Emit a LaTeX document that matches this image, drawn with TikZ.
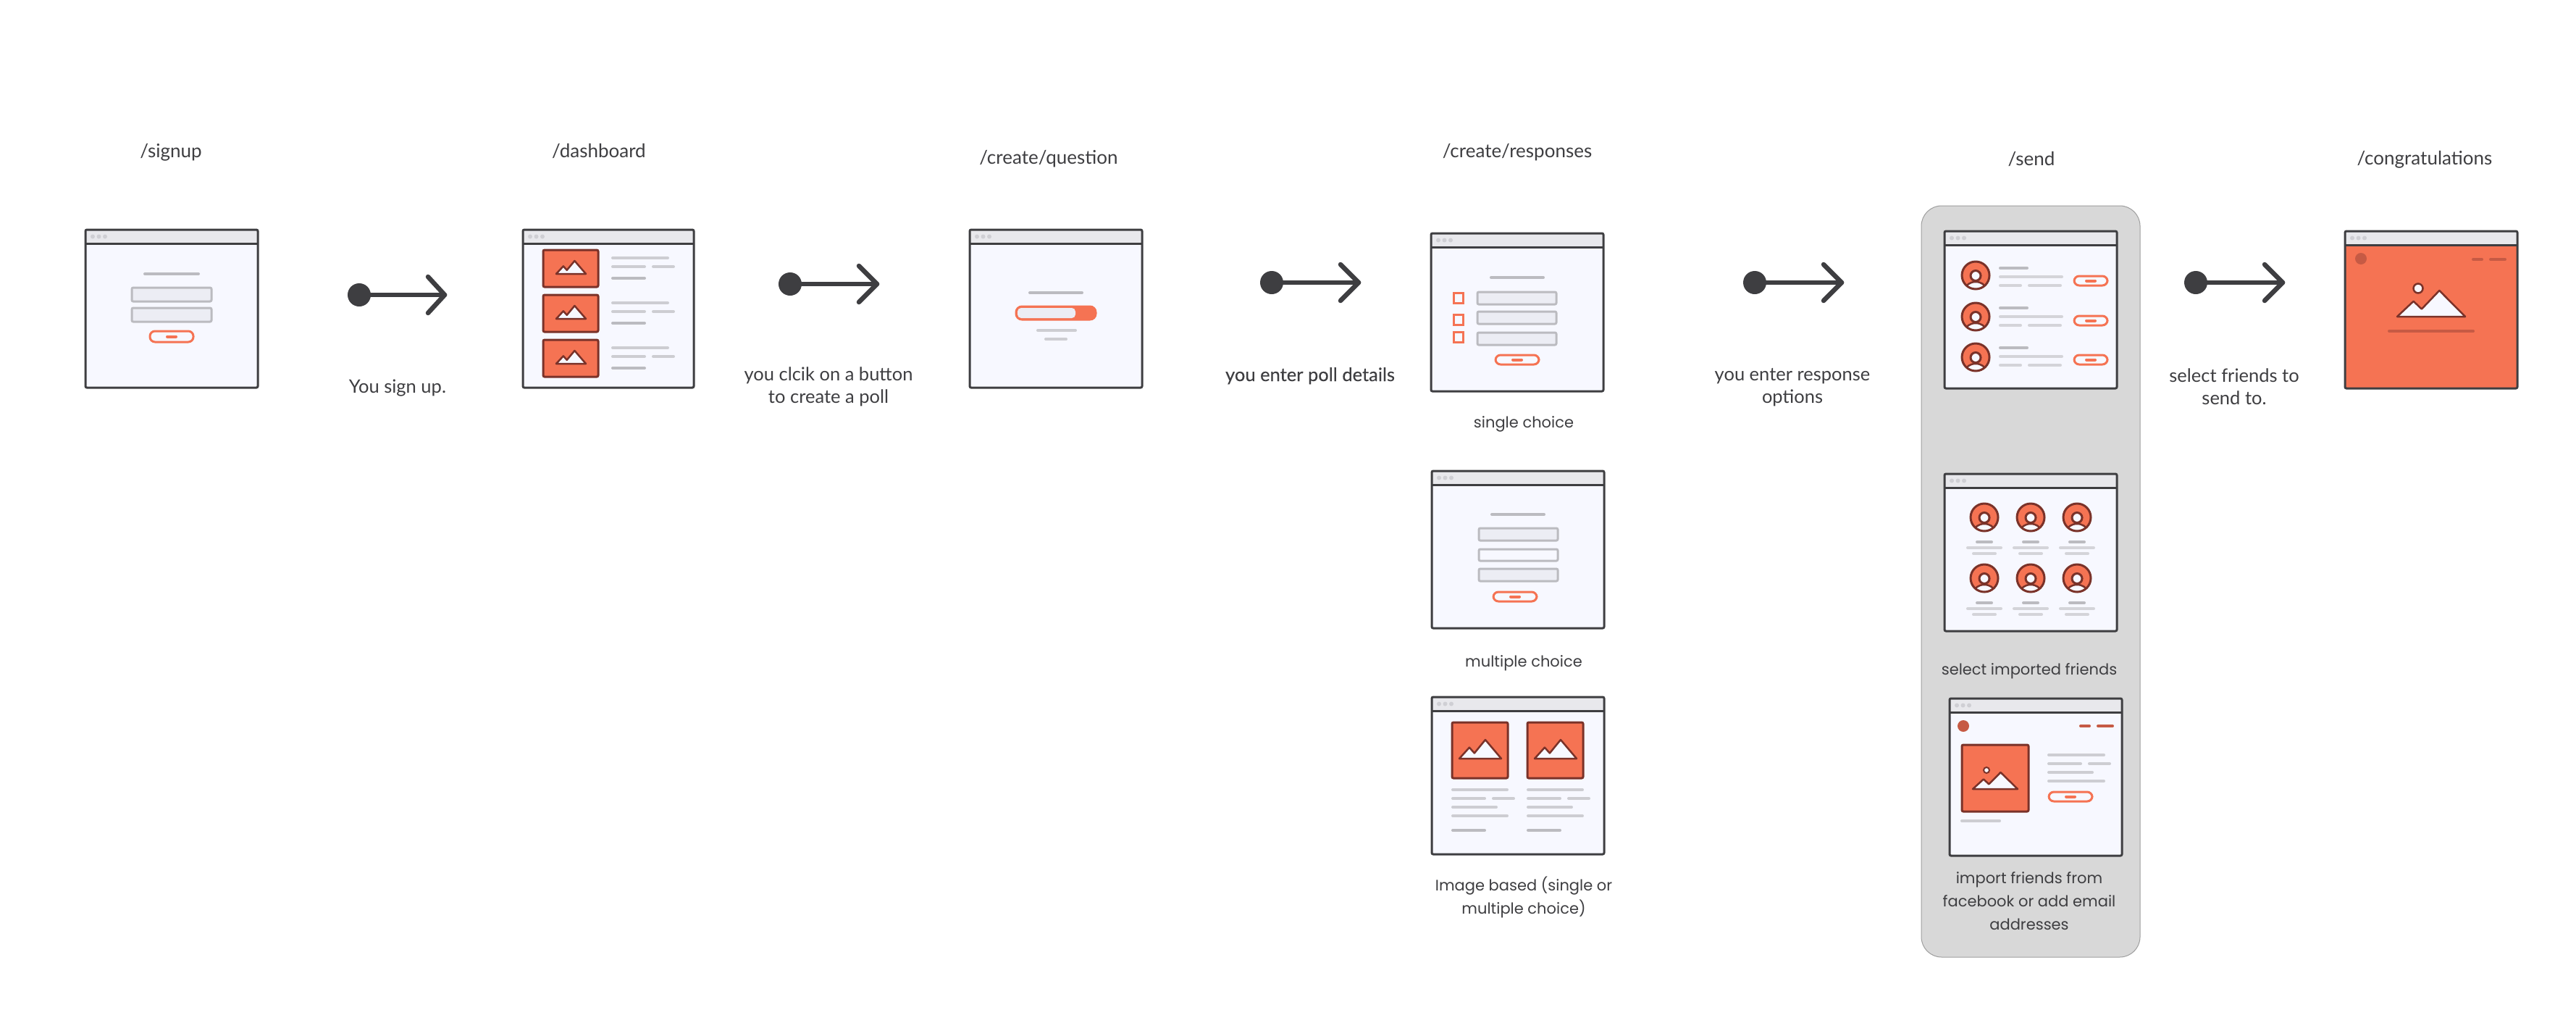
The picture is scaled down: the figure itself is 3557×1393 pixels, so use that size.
\documentclass[tikz,border=0pt]{standalone}
\usepackage{fontspec}
\setmainfont{Lato}
\newfontfamily\futfont{Poppins}
\definecolor{ink}{HTML}{3E3E41}
\definecolor{barfill}{HTML}{E8E8EC}
\definecolor{pagefill}{HTML}{F7F8FF}
\definecolor{dotgrey}{HTML}{CFCFD4}
\definecolor{lineA}{HTML}{BBBBC0}
\definecolor{lineB}{HTML}{CDCDD2}
\definecolor{lineC}{HTML}{D4D4D9}
\definecolor{inputfill}{HTML}{ECEDF4}
\definecolor{orange}{HTML}{F57353}
\definecolor{rust}{HTML}{7A3229}
\definecolor{brick}{HTML}{C65A44}
\definecolor{panel}{HTML}{D8D8D8}
\definecolor{panelline}{HTML}{9E9E9E}
\tikzset{
  winframe/.style={draw=ink,line width=3pt,rounded corners=2pt},
  tline/.style={line width=4pt,line cap=round},
  inputbox/.style={draw=lineA,line width=3pt,rounded corners=2pt,fill=inputfill},
  imgbox/.style={draw=rust,line width=3pt,rounded corners=2pt,fill=orange},
  mountain/.style={draw=rust,line width=2.5pt,fill=pagefill,line join=round},
  btnbox/.style={draw=orange,line width=3pt,rounded corners=7pt,fill=pagefill},
  flowdot/.style={circle,fill=ink,inner sep=0pt,minimum size=32pt},
  flowline/.style={draw=ink,line width=6.5pt,line cap=round,line join=round},
  route/.style={text=ink,font=\fontsize{26}{31}\selectfont,align=center,inner sep=0pt},
  lbl/.style={text=ink,font=\fontsize{25.5}{31}\selectfont,align=center,inner sep=0pt},
  fut/.style={text=ink,font=\futfont\fontsize{21}{32}\selectfont,align=center,inner sep=0pt},
}
% window frame
\newcommand{\win}[5][pagefill]{%
  \fill[#1,rounded corners=2pt] (#2,#3) rectangle (#4,#5);
  \fill[barfill] (#2,#3) rectangle (#4,{#3+19});
  \draw[ink,line width=3pt] (#2,{#3+19}) -- (#4,{#3+19});
  \draw[winframe] (#2,#3) rectangle (#4,#5);
  \foreach \d in {10,18.5,27}{\fill[dotgrey] ({#2+\d},{#3+9.5}) circle[radius=3pt];}
}
\newcommand{\tl}[4][lineA]{\draw[tline,#1] (#2,#4) -- (#3,#4);}
\newcommand{\inp}[5][inputfill]{\draw[inputbox,fill=#1] (#2,#3) rectangle (#4,#5);}
\newcommand{\btn}[6]{\draw[btnbox] (#1,#2) rectangle (#3,#4);
  \draw[tline,orange] ({#5+2},{(#2+#4)/2}) -- ({#6-2},{(#2+#4)/2});}
\newcommand{\mnt}[4]{\draw[mountain] (#1,{#2+#4}) -- ({#1+.24*#3},{#2+.41*#4}) -- ({#1+.36*#3},{#2+.71*#4}) -- ({#1+.62*#3},#2) -- ({#1+#3},{#2+#4}) -- cycle;}
\newcommand{\img}[4]{\draw[imgbox] (#1,#2) rectangle (#3,#4);}
\newcommand{\avatar}[2]{%
  \fill[orange] (#1,#2) circle[radius=19pt];
  \begin{scope}
    \clip (#1,#2) circle[radius=19pt];
    \draw[rust,line width=2.5pt,fill=pagefill] (#1,{#2+19}) ellipse[x radius=14pt,y radius=10pt];
  \end{scope}
  \draw[rust,line width=3pt,fill=pagefill] (#1,{#2+0.5}) circle[radius=7pt];
  \draw[rust,line width=3pt] (#1,#2) circle[radius=19pt];
}
\newcommand{\flow}[5]{%
  \coordinate (#1t) at (#4,#3);
  \coordinate (#1a) at (#5,{#3-25});
  \coordinate (#1b) at (#5,{#3+25});
  \node[flowdot] (#1d) at (#2,#3) {};
  \draw[flowline] (#1d) -- (#1t);
  \draw[flowline] (#1a) -- (#1t) -- (#1b);
}
\begin{document}
\begin{tikzpicture}[x=1pt,y=-1pt]
\useasboundingbox (0,0) rectangle (3557,1393);
\fill[white] (0,0) rectangle (3557,1393);

% send panel
\draw[fill=panel,draw=panelline,line width=1pt,rounded corners=28pt] (2653,284) rectangle (2955,1321);

% /signup
\win{118}{317}{356}{535}
\tl{200}{274}{378}
\inp{182}{397}{292}{416}
\inp{182}{425}{292}{444}
\btn{207}{457}{267}{472}{229}{245}

% /dashboard
\win{722}{317}{958}{535}
\foreach \o in {0,62,124}{
  \img{750}{345+\o}{826}{396+\o}
  \mnt{768}{360+\o}{41}{18}
  \tl[lineB]{846}{922}{356+\o}
  \tl[lineB]{846}{890}{368+\o}
  \tl[lineB]{902}{930}{368+\o}
  \tl{846}{890}{384+\o}
}

% /create/question
\win{1339}{317}{1577}{535}
\tl{1422}{1494}{404}
\draw[orange,line width=3pt,fill=orange,rounded corners=8pt] (1403,423) rectangle (1513,441);
\fill[inputfill,rounded corners=5pt] (1405,425) -- (1485,425) -- (1485,439) -- (1405,439) -- cycle;
\tl[lineB]{1433}{1485}{456}
\tl[lineB]{1444}{1472}{468}

% /create/responses: single choice
\win{1976}{322}{2214}{540}
\tl{2059}{2131}{383}
\inp{2040}{403}{2149}{420}
\inp{2040}{430}{2149}{447}
\inp{2040}{459}{2149}{476}
\draw[orange,line width=3pt] (2007,404) rectangle (2020,418);
\draw[orange,line width=3pt] (2007,434) rectangle (2020,448);
\draw[orange,line width=3pt] (2007,458) rectangle (2020,472);
\btn{2065}{490}{2125}{503}{2087}{2103}

% multiple choice
\win{1977}{650}{2215}{867}
\tl{2060}{2132}{710}
\inp{2042}{729}{2151}{746}
\inp[pagefill]{2042}{758}{2151}{774}
\inp{2042}{785}{2151}{802}
\btn{2062}{817}{2122}{830}{2084}{2100}

% image based
\win{1977}{962}{2215}{1179}
\foreach \o in {0,104}{
  \img{2005+\o}{997}{2082+\o}{1074}
  \mnt{2015+\o}{1021}{58}{26}
  \tl[lineB]{2006+\o}{2081+\o}{1090}
  \tl[lineB]{2006+\o}{2050+\o}{1102}
  \tl[lineB]{2062+\o}{2090+\o}{1102}
  \tl[lineB]{2006+\o}{2066+\o}{1114}
  \tl[lineB]{2006+\o}{2081+\o}{1126}
  \tl{2006+\o}{2050+\o}{1146}
}

% /send: list
\win{2685}{319}{2923}{536}
\foreach \o/\p/\a in {0/0/0,55/55/57,110/109/113}{
  \avatar{2728}{380+\a}
  \tl{2762}{2799}{370+\o}
  \tl[lineC]{2762}{2847}{382+\o}
  \tl[lineC]{2762}{2790}{394+\o}
  \tl[lineC]{2802}{2845}{394+\o}
  \btn{2864}{381+\p}{2910}{394+\p}{2879}{2895}
}

% /send: grid
\win{2685}{654}{2923}{871}
\foreach \c in {2740,2804,2868}{
  \foreach \o in {0,84}{
    \avatar{\c}{714+\o}
    \tl{\c-10}{\c+10}{748+\o}
    \tl[lineC]{\c-23}{\c+23}{756+\o}
    \tl[lineC]{\c-15}{\c+15}{764+\o}
  }
}

% /send: import
\win{2692}{964}{2930}{1181}
\fill[brick] (2711,1002) circle[radius=8pt];
\tl[brick]{2873}{2885}{1002}
\tl[brick]{2897}{2917}{1002}
\img{2709}{1028}{2801}{1120}
\mnt{2724}{1066}{62}{23}
\draw[rust,line width=2pt,fill=pagefill] (2743,1063) circle[radius=4pt];
\tl[lineB]{2829}{2905}{1042}
\tl[lineB]{2829}{2873}{1054}
\tl[lineB]{2885}{2913}{1054}
\tl[lineB]{2829}{2889}{1066}
\tl[lineB]{2829}{2905}{1078}
\btn{2829}{1093}{2889}{1106}{2851}{2867}
\tl[lineB]{2709}{2761}{1133}

% /congratulations
\win[orange]{3238}{319}{3476}{536}
\fill[brick] (3260,357) circle[radius=8pt];
\tl[brick]{3415}{3427}{358}
\tl[brick]{3439}{3459}{358}
\mnt{3310}{401}{94}{36}
\draw[rust,line width=2.5pt,fill=pagefill] (3339,398) circle[radius=6.5pt];
\tl[brick]{3299}{3415}{457}

% arrows
\flow{fa}{496}{407}{614}{591}
\flow{fb}{1091}{392}{1211}{1186}
\flow{fc}{1756}{390}{1876}{1851}
\flow{fd}{2423}{390}{2543}{2518}
\flow{fe}{3032}{390}{3152}{3127}

% route labels
\node[route,anchor=base] (t1) at (236,217) {/signup};
\node[route,anchor=base] (t2) at (827,217) {/dashboard};
\node[route,anchor=base] (t3) at (1448,226) {/create/question};
\node[route,anchor=base] (t4) at (2095,217) {/create/responses};
\node[route,anchor=base] (t5) at (2805,228) {/send};
\node[route,anchor=base] (t6) at (3348,227) {/congratulations};
% step captions
\node[lbl,anchor=base] (c1) at (549,542) {You sign up.};
\node[lbl] (c2) at (1144,534) {you clcik on a button\\to create a poll};
\node[lbl,anchor=base,font=\fontsize{25.5}{31}\selectfont\addfontfeature{FakeBold=0.15}] (c3) at (1809,526) {you enter poll details};
\node[lbl] (c4) at (2475,535) {you enter response\\options};
\node[lbl] (c5) at (3085,534) {select friends to\\send to.};
% variant captions
\node[fut,anchor=base] (v1) at (2104,590) {single choice};
\node[fut,anchor=base] (v2) at (2104,920) {multiple choice};
\node[fut] (v3) at (2104,1238) {Image based (single or\\multiple choice)};
\node[fut,anchor=base] (v4) at (2802,931) {select imported friends};
\node[fut] (v5) at (2802,1244) {import friends from\\facebook or add email\\addresses};
\end{tikzpicture}
\end{document}
